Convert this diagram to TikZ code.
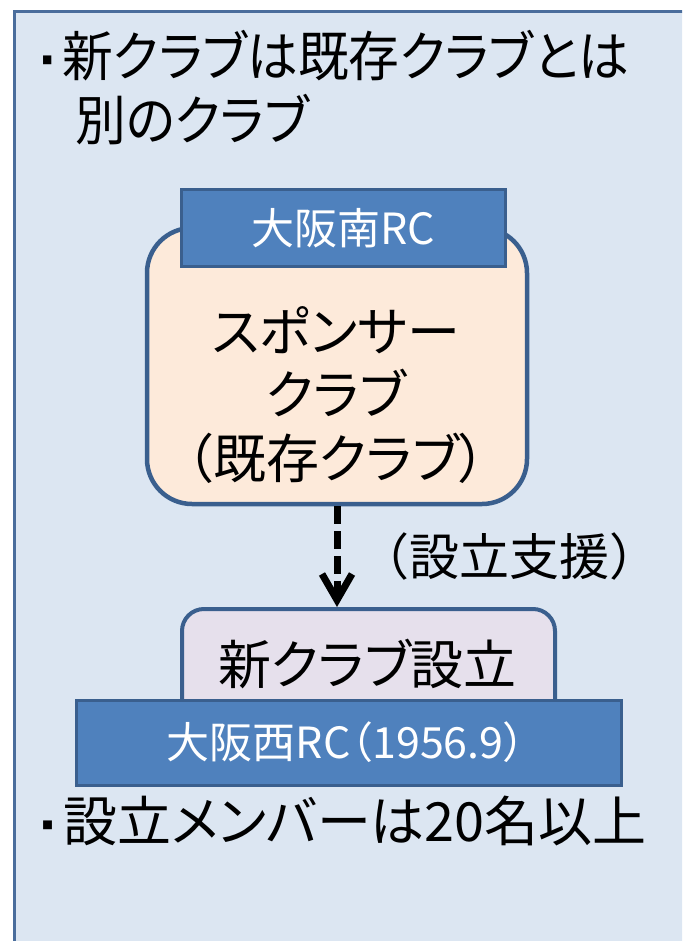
\documentclass[tikz,border=0pt]{standalone}
\usepackage{fontspec}
\setmainfont{Noto Sans CJK JP}[RawFeature={+palt}]
\newfontfamily\jpfull{Noto Sans CJK JP}
\newfontfamily\jpnarrow{Noto Sans CJK JP}[RawFeature={+palt}, FakeStretch=0.94]
\usetikzlibrary{arrows.meta}
\definecolor{outerfill}{HTML}{DCE6F2}
\definecolor{outeredge}{HTML}{4A6D9C}
\definecolor{boxedge}{HTML}{3A5F8E}
\definecolor{boxblue}{HTML}{4F81BD}
\definecolor{peach}{HTML}{FDEADA}
\definecolor{lavender}{HTML}{E6E0EC}
\newcommand\mybullet{\raisebox{12pt}{\fontsize{11}{11}\selectfont ■}\hspace{10pt}}
\begin{document}
\begin{tikzpicture}[x=1pt,y=-1pt,
  txt/.style={inner sep=0pt, text=black},
  bigtxt/.style={txt, font=\jpnarrow\fontsize{54}{54}\selectfont},
  boxtxt/.style={txt, font=\fontsize{53}{53}\selectfont},
  whitetxt/.style={inner sep=0pt, text=white, font=\fontsize{43}{43}\selectfont},
  bluebox/.style={draw=boxedge, fill=boxblue, line width=3pt, inner sep=0pt},
  sponsorbox/.style={draw=boxedge, fill=peach, line width=4.5pt, rounded corners=45pt, inner sep=0pt},
  newbox/.style={draw=boxedge, fill=lavender, line width=4pt, rounded corners=22pt, inner sep=0pt},
  supportarrow/.style={line width=7pt, dash pattern=on 18pt off 7pt, -{Straight Barb[length=26pt,width=30pt]}}
]
\useasboundingbox (0,0) rectangle (682,941);
\clip (0,0) rectangle (682,941);
\fill[white] (0,0) rectangle (682,941);
% outer frame
\draw[draw=outeredge, fill=outerfill, line width=3pt] (14,12) rectangle (720,990);

% bullet text top
\node[bigtxt, anchor=base west] (l1) at (42,77) {\mybullet 新クラブは既存クラブとは};
\node[bigtxt, anchor=base west] (l2) at (75,141) {別のクラブ};

% sponsor club
\node[sponsorbox, minimum width=380pt, minimum height=276pt] (sponsor) at (337,366) {};
\node[bluebox, minimum width=324pt, minimum height=77pt] (south) at (343.5,228) {};
\node[whitetxt, anchor=base] (southtxt) at (343.5,244) {大阪南RC};
\node[boxtxt, anchor=base] (sp1) at (336,351) {スポンサー};
\node[boxtxt, anchor=base] (sp2) at (336,414) {クラブ};
\node[boxtxt, anchor=base] (sp3) at (336,478) {（既存クラブ）};

% new club
\node[newbox, minimum width=373pt, minimum height=121pt] (newclub) at (368.5,669.5) {};
\node[boxtxt, anchor=base] (newtxt) at (367.5,684) {新クラブ設立};
\node[bluebox, minimum width=545pt, minimum height=84.5pt] (west) at (349,742.75) {};
\node[whitetxt, anchor=base] (westtxt) at (346,758) {大阪西RC（1956.9）};

% arrow
\draw[supportarrow] (sponsor.south) -- (sponsor.south |- newclub.north);
\node[txt, anchor=base, font=\jpfull\fontsize{50}{50}\selectfont] (support) at (509,575) {（設立支援）};

% bottom bullet
\node[txt, font=\fontsize{54}{54}\selectfont, anchor=base west] (l3) at (42,841) {\mybullet 設立メンバーは20名以上};
\end{tikzpicture}
\end{document}
